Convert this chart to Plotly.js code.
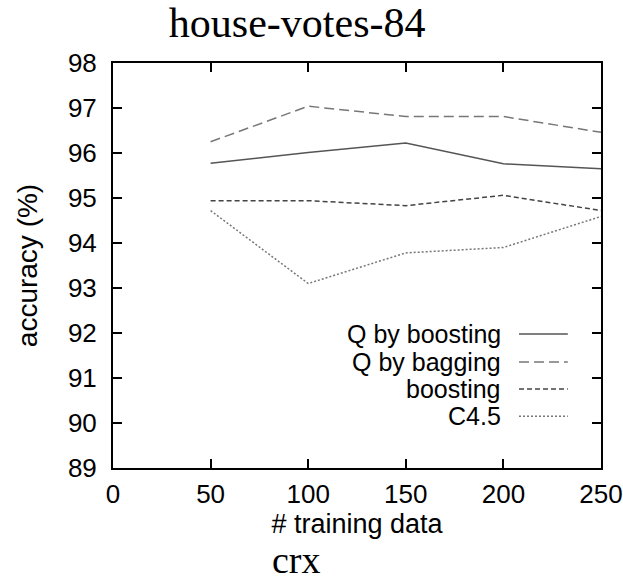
<!DOCTYPE html>
<html>
<head>
<meta charset="utf-8">
<script src="https://cdn.plot.ly/plotly-3.0.1.min.js"></script>
<style>html,body{margin:0;padding:0;background:#fff}#chart{width:623px;height:580px}</style>
</head>
<body>
<div id="chart"></div>
<script>
const trainingData = [50, 100, 150, 200, 250];
const qByBoosting = [95.77, 96.01, 96.22, 95.76, 95.65];
const qByBagging = [96.25, 97.04, 96.81, 96.81, 96.46];
const boosting = [94.94, 94.94, 94.83, 95.06, 94.72];
const c45 = [94.72, 93.10, 93.78, 93.90, 94.59];
const seriesNames = ["Q by boosting", "Q by bagging", "boosting", "C4.5"];
const seriesValues = [qByBoosting, qByBagging, boosting, c45];
const seriesColors = ["#555555", "#777777", "#444444", "#777777"];
const seriesDash = ["solid", "10px,5px", "5px,3px", "2px,2px"];
const xTicks = [0, 50, 100, 150, 200, 250];
const yTicks = [89, 90, 91, 92, 93, 94, 95, 96, 97, 98];

const sans = "Liberation Sans, Arial, sans-serif";
const serif = "Liberation Serif, serif";

const traces = seriesValues.map((v, i) => ({
  x: trainingData, y: v, type: "scatter", mode: "lines", name: seriesNames[i],
  line: {color: seriesColors[i], width: 1.5, dash: seriesDash[i]}, showlegend: false
}));

const legY = [0.331, 0.262, 0.195, 0.128];
const annotations = seriesNames.map((n, i) => ({
  text: n, xref: "paper", yref: "paper", x: 0.799, y: legY[i], xanchor: "right", yanchor: "middle",
  showarrow: false, font: {family: sans, size: 25, color: "#000"}
}));
annotations.push({
  text: "crx", xref: "paper", yref: "paper", x: 0.375, y: -0.226, xanchor: "center", yanchor: "middle",
  showarrow: false, font: {family: serif, size: 38, color: "#000"}
});
const shapes = seriesNames.map((n, i) => ({
  type: "line", xref: "paper", yref: "paper", x0: 0.832, x1: 0.932, y0: legY[i], y1: legY[i],
  line: {color: seriesColors[i], width: 1.5, dash: seriesDash[i]}
}));

const axisCommon = {
  showline: true, linecolor: "#000", linewidth: 2, mirror: "ticks",
  ticks: "inside", ticklen: 9, tickwidth: 2, tickcolor: "#000",
  showgrid: false, zeroline: false,
  tickfont: {family: sans, size: 26, color: "#000"}
};

const layout = {
  width: 623, height: 580,
  margin: {l: 113, r: 22, t: 63, b: 112},
  paper_bgcolor: "#fff", plot_bgcolor: "#fff",
  title: {text: "house-votes-84", xref: "container", yref: "container", x: 0.477, y: 0.962,
    xanchor: "center", yanchor: "middle", font: {family: serif, size: 42, color: "#000"}},
  xaxis: Object.assign({}, axisCommon, {range: [0, 250], tickvals: xTicks, ticklabelstandoff: 2,
    title: {text: "# training data", standoff: 2, font: {family: sans, size: 27, color: "#000"}}}),
  yaxis: Object.assign({}, axisCommon, {range: [89, 98], tickvals: yTicks, ticklabelstandoff: 9,
    title: {text: "accuracy (%)", standoff: 22, font: {family: sans, size: 28, color: "#000"}}}),
  annotations: annotations, shapes: shapes
};

Plotly.newPlot("chart", traces, layout, {displayModeBar: false, staticPlot: true});
</script>
</body>
</html>
